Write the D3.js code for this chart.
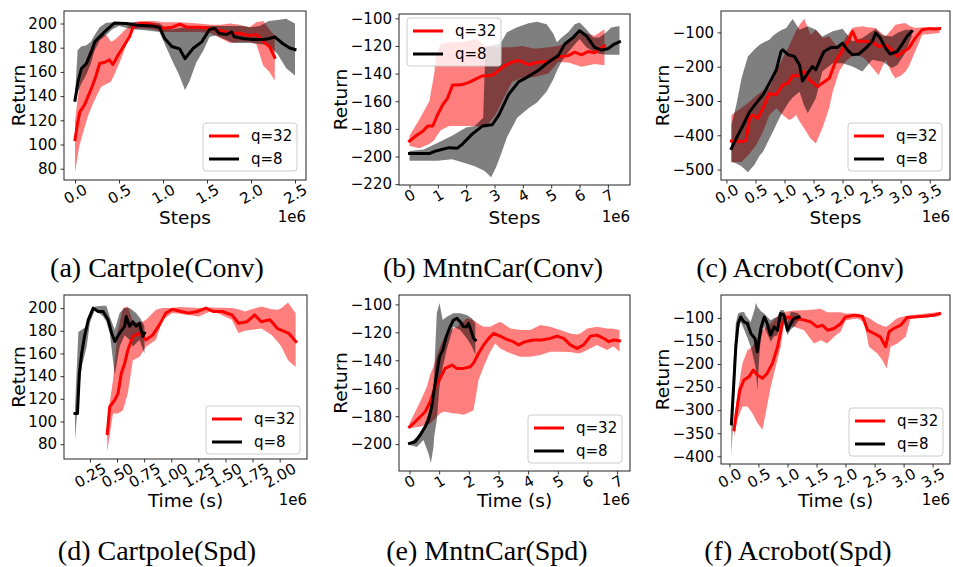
<!DOCTYPE html>
<html>
<head>
<meta charset="utf-8">
<script src="https://cdn.jsdelivr.net/npm/d3@7/dist/d3.min.js"></script>
<style>
  body { margin: 0; background: #fff; }
  text { fill: #000; }
</style>
</head>
<body>
<svg id="chart" width="953" height="567"></svg>
<script>
// ---- data (x in 1e6, return). bands are [x, low, high] ----

// (a) Cartpole(Conv)
const aRedMean = [[0,104],[.03,118],[.055,127],[.11,133],[.15,140],[.19,147],[.24,157],[.28,167],[.34,168],[.39,170],[.43,166],[.49,174],[.56,182],[.62,189],[.66,197],[.74,200],[.81,200],[.89,199],[1.0,196],[1.11,197],[1.19,199.5],[1.27,197],[1.42,197],[1.53,196],[1.64,194.5],[1.76,192],[1.87,192],[1.98,190],[2.06,191],[2.14,185],[2.21,181],[2.27,172]];
const aRedBand = [[0,77,119],[.05,99,150],[.1,112,164],[.15,124,175],[.2,133,183],[.25,141,186],[.3,148,191],[.36,150,190],[.41,152,185],[.46,160,187],[.53,172,192],[.6,186,197],[.66,195,201],[.75,196,202],[.9,195,202],[1.0,193,201],[1.2,193,201],[1.4,193,200],[1.55,192,199],[1.65,188,199],[1.76,184,200],[1.87,185,199],[1.98,185,197],[2.06,183,201],[2.14,165,202],[2.21,160,195],[2.27,153,190]];
const aBlackMean = [[0,136.6],[.034,151.7],[.073,162.8],[.13,167],[.186,176.5],[.224,184.8],[.28,189],[.357,194.5],[.45,200.5],[.58,200],[.7,198.6],[.88,198],[.96,197],[1.02,187.6],[1.1,181],[1.19,179],[1.25,171],[1.28,173.8],[1.34,179.3],[1.44,184.8],[1.53,195.3],[1.59,195.9],[1.64,191.7],[1.72,190.9],[1.78,193],[1.81,189],[1.91,187.6],[2.02,186.8],[2.14,186.8],[2.21,187.6],[2.27,189],[2.36,183.5],[2.44,179.8],[2.5,178.5]];
const aBlackBand = [[0,136,140],[.03,143,178],[.07,150,181],[.13,158,182],[.18,167,185],[.22,177,190],[.28,186,197],[.35,190,200.5],[.42,195,201],[.5,198,201],[.6,196,201],[.7,195,201],[.85,194,201],[.96,193,200],[1.02,183,197],[1.1,170,195],[1.18,158,196],[1.25,145,197],[1.3,152,197],[1.38,168,198],[1.46,178,198],[1.53,189,198],[1.6,190,198],[1.7,187,198],[1.8,184,198],[1.9,184,198],[2.0,184,197],[2.1,183,198],[2.2,182,202],[2.3,175,203],[2.4,163,204],[2.5,157,200]];

// (b) MntnCar(Conv)
const bRedMean = [[0,-188.8],[.23,-185],[.47,-181.7],[.64,-178],[.82,-178],[.99,-169.8],[1.17,-162.6],[1.34,-157.9],[1.52,-148.3],[1.69,-148.3],[1.87,-147.9],[2.1,-146.4],[2.33,-144],[2.57,-141.7],[2.92,-141.2],[3.15,-137.6],[3.38,-134],[3.62,-131.7],[3.85,-130.5],[4.2,-133.6],[4.55,-131.7],[4.9,-131.2],[5.25,-128],[5.6,-127],[5.83,-124.5],[6.07,-126.4],[6.3,-124],[6.53,-125],[6.71,-122],[6.88,-120]];
const bRedBand = [[0,-192.4,-185],[.35,-194,-173],[.7,-191,-160],[.88,-188,-139],[.93,-186,-127],[1.1,-181,-118.6],[1.4,-178,-117.4],[1.87,-178,-117.4],[2.33,-178,-115],[2.68,-179,-119.8],[3.03,-170,-121],[3.38,-155.5,-121],[3.62,-146,-121],[3.97,-143,-120],[4.43,-142.4,-122],[4.9,-140,-121],[5.25,-131.7,-120],[5.6,-132,-117.4],[6.07,-135,-110],[6.53,-133,-112.6],[6.88,-134,-108]];
const bBlackMean = [[0,-197.9],[.7,-197.9],[.93,-196],[1.4,-193.6],[1.69,-194],[1.87,-191],[2.2,-184],[2.57,-178],[2.92,-177],[3.15,-170],[3.5,-155],[3.85,-146],[4.2,-142],[4.55,-137.6],[4.9,-131.7],[5.25,-127],[5.48,-118.6],[5.78,-113.8],[6.0,-109],[6.24,-112.6],[6.53,-121],[6.77,-123],[7.0,-122],[7.23,-118.6],[7.41,-117]];
const bBlackBand = [[0,-203,-196],[.5,-203,-195],[1.0,-203,-190],[1.5,-202,-185],[2.0,-205,-179],[2.3,-207,-178],[2.6,-210,-172],[2.68,-211,-121],[2.88,-215,-120],[3.05,-208,-119],[3.2,-200,-118.6],[3.44,-186,-110],[3.8,-172,-106.5],[4.2,-165,-103.5],[4.5,-161,-102.5],[4.84,-153,-104.3],[5.08,-144,-111.4],[5.2,-138,-117.4],[5.37,-131,-113.8],[5.6,-124.5,-110],[5.83,-119,-104.3],[6.0,-115,-103],[6.24,-121,-107.9],[6.48,-124,-113.8],[6.7,-125.7,-113.8],[6.94,-126.4,-110],[7.12,-126.4,-106.7],[7.41,-126.4,-105.5]];

// (c) Acrobot(Conv)
const cRedMean = [[.086,-417],[.17,-417],[.26,-419],[.34,-414],[.4,-346],[.46,-341],[.54,-351],[.63,-321],[.74,-278],[.86,-282],[.97,-253],[1.06,-248],[1.14,-226],[1.26,-227],[1.34,-214],[1.43,-238.5],[1.57,-258],[1.65,-248],[1.77,-234],[1.88,-185],[2.0,-151],[2.11,-121.5],[2.17,-97],[2.25,-126],[2.4,-126],[2.54,-131],[2.62,-141],[2.74,-136],[2.85,-151],[2.94,-170],[3.05,-155.6],[3.14,-146],[3.25,-116.6],[3.37,-92],[3.48,-89],[3.59,-90],[3.67,-89]];
const cRedBand = [[.086,-478,-341],[.17,-478,-331],[.26,-478,-320],[.4,-453,-302],[.51,-429,-285],[.63,-390,-270],[.74,-341,-263],[.86,-321,-214],[.97,-341,-175],[1.08,-355.6,-140],[1.14,-350,-116.6],[1.2,-341,-95],[1.26,-360,-77.6],[1.34,-380,-60],[1.45,-410,-107],[1.54,-424,-92],[1.6,-400,-105],[1.65,-380,-116.6],[1.71,-351,-114],[1.77,-320,-111.7],[1.83,-273,-125],[1.94,-214,-146],[2.05,-185,-116.6],[2.17,-168,-87],[2.22,-165,-85],[2.34,-172,-82],[2.4,-180,-84],[2.57,-215,-87],[2.62,-224,-95],[2.74,-180,-111.7],[2.85,-220,-90],[2.91,-234,-77.6],[3.02,-224,-74],[3.08,-215,-72.7],[3.14,-199.5,-80],[3.25,-155.6,-87],[3.37,-107,-85],[3.67,-102,-85]];
const cBlackMean = [[.086,-438.5],[.17,-409],[.29,-370],[.4,-331],[.51,-307],[.63,-282],[.74,-248],[.86,-209],[.94,-155.6],[.97,-150.7],[1.06,-165],[1.17,-170],[1.26,-195],[1.31,-241.5],[1.4,-219],[1.48,-199.5],[1.54,-209],[1.6,-185],[1.68,-155.6],[1.8,-144],[1.91,-144],[2.0,-131],[2.08,-151],[2.17,-165],[2.28,-163],[2.4,-146],[2.51,-126],[2.57,-102],[2.65,-116.6],[2.74,-146],[2.82,-163],[2.94,-155.6],[3.02,-136],[3.11,-111.7],[3.19,-97]];
const cBlackBand = [[.086,-478,-370],[.17,-482,-312],[.26,-490,-234],[.37,-508,-170],[.48,-487,-150],[.57,-460,-136],[.63,-448,-130],[.74,-410,-121.5],[.8,-390,-110],[.91,-350,-97],[.94,-341,-94],[1.03,-315,-87],[1.08,-302,-75],[1.14,-290,-61],[1.26,-273,-92],[1.33,-310,-87],[1.4,-336,-82],[1.54,-292,-92],[1.65,-214,-111.7],[1.83,-190,-97],[2.0,-190,-89],[2.17,-199.5,-126],[2.34,-214,-116.6],[2.51,-180,-97],[2.57,-182,-90],[2.68,-185,-108],[2.85,-204,-111.7],[2.94,-195,-102],[3.08,-160,-92],[3.19,-112,-92]];

// (d) Cartpole(Spd)
const dRedMean = [[.41,89.4],[.433,113],[.48,119],[.51,124.8],[.54,142.5],[.57,151],[.6,163],[.646,175],[.707,178],[.768,172],[.83,176.4],[.89,185],[.95,195.6],[1.01,199],[1.09,197],[1.16,195.6],[1.24,197],[1.32,200],[1.39,197],[1.47,197],[1.56,194],[1.62,186.7],[1.7,188],[1.77,194],[1.83,188],[1.91,189.7],[1.98,182],[2.08,178],[2.15,170.5]];
const dRedBand = [[.409,73.5,101],[.463,107,136.6],[.509,107,181],[.555,110,200],[.6,125,201.5],[.646,154,188],[.707,157,186.7],[.768,166,189.7],[.859,172,198.5],[.92,189.7,200],[1.011,195.6,200],[1.072,195,201],[1.255,192.6,200],[1.376,198,200.5],[1.559,189.7,200],[1.62,178,199],[1.68,180,197],[1.742,181,199],[1.833,182,201.5],[1.925,176.4,199],[1.985,170,198.5],[2.016,166,200],[2.077,154,205],[2.123,150,198.5],[2.147,148,195.6]];
const dBlackMean = [[.113,107],[.135,107],[.153,142.5],[.174,160],[.2,175],[.235,189.7],[.28,200],[.326,197],[.372,197],[.418,189.7],[.45,178],[.48,170.5],[.524,178],[.57,184],[.585,192.6],[.616,184],[.646,188],[.676,184],[.707,186.7],[.737,175],[.753,178]];
const dBlackBand = [[.113,83.5,113],[.144,122,179],[.174,148,181],[.22,166,184],[.25,187,192.6],[.296,198.5,201.5],[.372,192.6,202],[.402,188,202],[.433,178,192.6],[.479,141,181],[.524,166,195.6],[.57,176,200],[.616,172,200],[.646,166,198],[.676,169,195.6],[.707,172,192],[.722,168,189.7],[.753,160,184]];

// (e) MntnCar(Spd)
const eRedMean = [[0,-187.6],[.19,-184],[.36,-180.4],[.53,-176.8],[.7,-169.7],[.87,-159],[1.03,-153],[1.2,-145.8],[1.43,-143.4],[1.6,-145.8],[1.82,-145.8],[2.05,-144.6],[2.16,-142],[2.33,-135],[2.5,-129],[2.67,-124.3],[2.83,-120.8],[3.06,-122.7],[3.28,-125],[3.5,-126.7],[3.68,-129],[3.9,-126.7],[4.18,-125.5],[4.47,-125.5],[4.75,-124.3],[4.97,-122.7],[5.2,-124.3],[5.42,-129],[5.65,-131.5],[5.87,-129],[6.1,-122.7],[6.32,-122],[6.55,-124.3],[6.72,-126.7],[6.88,-125.5],[7.08,-126]];
const eRedBand = [[0,-188.8,-185.2],[.19,-188,-176.8],[.36,-187.6,-169.7],[.585,-186,-159],[.7,-185.2,-150],[.81,-183,-144.6],[.92,-180.4,-137],[1.03,-178,-130.3],[1.15,-176.8,-125],[1.26,-177,-120.8],[1.48,-178,-117],[1.6,-178,-116],[1.82,-179,-112],[1.93,-178,-110],[2.16,-175.7,-111.2],[2.33,-154,-114],[2.5,-144.6,-116],[2.72,-133.9,-116],[2.89,-128,-114],[3.06,-131.5,-112.4],[3.4,-135,-117.2],[3.73,-137.5,-118.4],[4.07,-137.5,-118.4],[4.41,-136.3,-114.8],[4.75,-133.9,-116],[5.08,-133.9,-118.4],[5.42,-134,-120.8],[5.65,-135,-121.5],[5.76,-135,-120.8],[5.99,-132.7,-117.2],[6.32,-129,-116],[6.66,-132.7,-117.2],[6.88,-130,-117.5],[7.08,-133.9,-118.4]];
const eBlackMean = [[0,-199.5],[.19,-198.3],[.36,-193.6],[.53,-187.6],[.64,-182.8],[.75,-173.3],[.83,-161.3],[.92,-149.4],[1.01,-137.5],[1.12,-132.7],[1.24,-123],[1.37,-116],[1.48,-111.2],[1.6,-110],[1.71,-112.4],[1.82,-116],[1.93,-116],[1.99,-113.6],[2.07,-118.4],[2.16,-124.3],[2.22,-125.5]];
const eBlackBand = [[0,-200.7,-199.5],[.25,-202,-194.7],[.47,-197,-187.6],[.64,-206.7,-178],[.72,-213.5,-170],[.81,-202,-160],[.83,-195,-150],[.92,-182.8,-106.4],[1.01,-159,-99],[1.12,-145,-111.2],[1.26,-132,-108.8],[1.48,-116,-106.4],[1.71,-118.4,-106.4],[1.93,-124.3,-107.6],[2.1,-130,-110],[2.22,-136.3,-113.6]];

// (f) Acrobot(Spd)
const fRedMean = [[.08,-342.4],[.126,-299.3],[.18,-256],[.25,-234.5],[.34,-227.3],[.41,-213],[.48,-223.7],[.57,-231],[.65,-220],[.74,-198.6],[.83,-162.6],[.91,-112],[1.0,-98],[1.11,-101.4],[1.26,-103.6],[1.4,-108.6],[1.51,-119.4],[1.6,-115.8],[1.69,-126.6],[1.8,-123],[1.92,-112],[2.0,-98],[2.15,-94],[2.29,-96.4],[2.38,-126.6],[2.49,-133.8],[2.6,-141],[2.69,-162.6],[2.75,-130],[2.83,-123],[2.95,-115.8],[3.06,-99.3],[3.18,-97.8],[3.35,-96.4],[3.52,-94],[3.62,-90.6]];
const fRedBand = [[.08,-356.8,-320.8],[.138,-320.8,-263.3],[.224,-292,-198.6],[.31,-292,-170],[.396,-306.5,-162.6],[.482,-328,-144.6],[.568,-342.4,-128],[.625,-306.5,-120],[.711,-249,-112],[.797,-205.8,-100],[.884,-162.6,-90],[.941,-112,-87],[1.113,-119.4,-84],[1.285,-126.6,-83.5],[1.457,-155.4,-82],[1.572,-148.2,-79.9],[1.687,-155.4,-88],[1.801,-141,-88],[1.916,-130,-88],[2.002,-105,-90.6],[2.203,-101.4,-90.6],[2.318,-108.6,-96],[2.404,-162.6,-100],[2.547,-177,-112],[2.633,-191.4,-117],[2.708,-209.4,-119.4],[2.777,-162.6,-112],[2.892,-155.4,-100],[3.035,-141,-96],[3.121,-101.4,-94],[3.62,-96.4,-87]];
const fBlackMean = [[.034,-329.5],[.069,-256],[.11,-162.6],[.15,-112],[.195,-98],[.25,-108.6],[.31,-112],[.37,-134],[.44,-144.6],[.48,-173.4],[.54,-123],[.6,-98],[.65,-112],[.71,-137.4],[.77,-119.4],[.83,-126.6],[.88,-90.6],[.94,-94],[1.0,-126.6],[1.06,-112],[1.11,-101.4],[1.2,-98]];
const fBlackBand = [[.034,-400,-313.7],[.069,-306.5,-198.6],[.109,-191.4,-112],[.149,-126.6,-90.6],[.195,-108.6,-88],[.252,-125,-87],[.281,-134,-95],[.367,-162.6,-108.6],[.436,-198.6,-80],[.453,-210,-67],[.482,-256,-76.3],[.511,-190,-80],[.539,-144.6,-85],[.597,-119.4,-90.6],[.654,-135,-98],[.711,-151.8,-105],[.77,-140,-100],[.826,-137.4,-97.8],[.88,-110,-83],[.941,-112,-83.5],[.998,-137.4,-110],[1.056,-125,-87],[1.113,-119.4,-88],[1.199,-105,-90.6]];

// ---- ticks ----
const ticksCartpoleY = [80, 100, 120, 140, 160, 180, 200];
const ticksMntnConvY = [-220, -200, -180, -160, -140, -120, -100];
const ticksMntnSpdY = [-200, -180, -160, -140, -120, -100];
const ticksAcroConvY = [-500, -400, -300, -200, -100];
const ticksAcroSpdY = [-400, -350, -300, -250, -200, -150, -100];
const ticksHalfX25 = [0, 0.5, 1.0, 1.5, 2.0, 2.5];
const ticksHalfX35 = [0, 0.5, 1.0, 1.5, 2.0, 2.5, 3.0, 3.5];
const ticksQuarterX = [0.25, 0.5, 0.75, 1.0, 1.25, 1.5, 1.75, 2.0];
const ticksIntX = [0, 1, 2, 3, 4, 5, 6, 7];

const seriesNames = ["q=32", "q=8"];
const colors = ["#ff0000", "#000000"];

const fmt1 = d3.format(".1f"), fmt2 = d3.format(".2f"), fmt0 = d3.format("d");
const yFmt = d => d3.format("d")(d).replace("-", "\u2212");

const panels = [
  { caption: "(a) Cartpole(Conv)", rect: [64, 11, 306, 180], capX: 157, capY: 277, xLab: "Steps", xLabY: 224, yLabX: 18,
    legend: [203, 123], mean: [aRedMean, aBlackMean], band: [aRedBand, aBlackBand], xt: ticksHalfX25, xf: fmt1, yt: ticksCartpoleY },
  { caption: "(b) MntnCar(Conv)", rect: [399, 14, 630, 185], capX: 493, capY: 277, xLab: "Steps", xLabY: 224, yLabX: 340,
    legend: [407, 18], mean: [bRedMean, bBlackMean], band: [bRedBand, bBlackBand], xt: ticksIntX, xf: fmt0, yt: ticksMntnConvY },
  { caption: "(c) Acrobot(Conv)", rect: [721, 11, 950, 180], capX: 800, capY: 277, xLab: "Steps", xLabY: 224, yLabX: 662,
    legend: [848, 123], mean: [cRedMean, cBlackMean], band: [cRedBand, cBlackBand], xt: ticksHalfX35, xf: fmt1, yt: ticksAcroConvY },
  { caption: "(d) Cartpole(Spd)", rect: [64, 295, 307, 459], capX: 157, capY: 560, xLab: "Time (s)", xLabY: 507, yLabX: 18,
    legend: [206, 406], mean: [dRedMean, dBlackMean], band: [dRedBand, dBlackBand], xt: ticksQuarterX, xf: fmt2, yt: ticksCartpoleY },
  { caption: "(e) MntnCar(Spd)", rect: [399, 295, 630, 471], capX: 487, capY: 560, xLab: "Time (s)", xLabY: 507, yLabX: 340,
    legend: [528, 415], mean: [eRedMean, eBlackMean], band: [eRedBand, eBlackBand], xt: ticksIntX, xf: fmt0, yt: ticksMntnSpdY },
  { caption: "(f) Acrobot(Spd)", rect: [721, 295, 950, 464], capX: 798, capY: 560, xLab: "Time (s)", xLabY: 507, yLabX: 662,
    legend: [849, 408], mean: [fRedMean, fBlackMean], band: [fRedBand, fBlackBand], xt: ticksHalfX35, xf: fmt1, yt: ticksAcroSpdY }
];

const svg = d3.select("#chart");

// matplotlib-ish auto limits: 5% margin on each side
function padded(ext) {
  const r = ext[1] - ext[0];
  return [ext[0] - 0.05 * r, ext[1] + 0.05 * r];
}

function drawPanel(p) {
  const [x0, y0, x1, y1] = p.rect;
  const xs = [], ys = [];
  p.mean.forEach(s => s.forEach(d => { xs.push(d[0]); ys.push(d[1]); }));
  p.band.forEach(s => s.forEach(d => { xs.push(d[0]); ys.push(d[1], d[2]); }));

  const x = d3.scaleLinear().domain(padded(d3.extent(xs))).range([x0, x1]);
  const y = d3.scaleLinear().domain(padded(d3.extent(ys))).range([y1, y0]);

  const g = svg.append("g");

  const area = d3.area().x(d => x(d[0])).y0(d => y(d[1])).y1(d => y(d[2]));
  const line = d3.line().x(d => x(d[0])).y(d => y(d[1]));

  // bands first (red then grey), then the mean lines
  p.band.forEach((b, i) => {
    g.append("path").attr("d", area(b)).attr("fill", colors[i]).attr("fill-opacity", 0.5);
  });
  p.mean.forEach((m, i) => {
    g.append("path").attr("d", line(m)).attr("fill", "none")
      .attr("stroke", colors[i]).attr("stroke-width", 3)
      .attr("stroke-linejoin", "round").attr("stroke-linecap", "square");
  });

  // axes
  const xAxis = g.append("g").attr("transform", `translate(0,${y1})`)
    .call(d3.axisBottom(x).tickValues(p.xt).tickFormat(p.xf).tickSize(3.5));
  xAxis.select(".domain").remove();
  xAxis.selectAll("line").attr("stroke", "#000").attr("stroke-width", 0.8);
  xAxis.selectAll("text")
    .attr("font-family", "DejaVu Sans").attr("font-size", 15).attr("fill", "#000")
    .each(function () {
      const t = d3.select(this);
      const w = this.getComputedTextLength();
      const cy = 4 + (w * 0.5 + 10 * 0.866) / 2;
      t.attr("x", 0).attr("y", cy).attr("dy", null)
        .attr("text-anchor", "middle").attr("dominant-baseline", "central")
        .attr("transform", `rotate(-30,0,${cy})`);
    });

  const yAxis = g.append("g").attr("transform", `translate(${x0},0)`)
    .call(d3.axisLeft(y).tickValues(p.yt).tickFormat(yFmt).tickSize(3.5).tickPadding(3.5));
  yAxis.select(".domain").remove();
  yAxis.selectAll("line").attr("stroke", "#000").attr("stroke-width", 0.8);
  yAxis.selectAll("text").attr("font-family", "DejaVu Sans").attr("font-size", 15).attr("fill", "#000");

  // frame
  g.append("rect").attr("x", x0).attr("y", y0).attr("width", x1 - x0).attr("height", y1 - y0)
    .attr("fill", "none").attr("stroke", "#222").attr("stroke-width", 1);

  // labels
  g.append("text").attr("x", (x0 + x1) / 2).attr("y", p.xLabY)
    .attr("text-anchor", "middle").attr("font-family", "DejaVu Sans").attr("font-size", 18.5)
    .text(p.xLab);
  g.append("text").attr("transform", `translate(${p.yLabX},${(y0 + y1) / 2}) rotate(-90)`)
    .attr("text-anchor", "middle").attr("dominant-baseline", "central")
    .attr("font-family", "DejaVu Sans").attr("font-size", 18.5)
    .text("Return");
  g.append("text").attr("x", x1).attr("y", p.xLabY - 2)
    .attr("text-anchor", "end").attr("font-family", "DejaVu Sans").attr("font-size", 15)
    .text("1e6");

  // legend
  const [lx, ly] = p.legend;
  const lg = g.append("g").attr("transform", `translate(${lx},${ly})`);
  lg.append("rect").attr("width", 94).attr("height", 48).attr("rx", 3)
    .attr("fill", "#fff").attr("fill-opacity", 0.8).attr("stroke", "#ccc").attr("stroke-width", 1);
  seriesNames.forEach((name, i) => {
    const cy = 13 + i * 23;
    lg.append("line").attr("x1", 6).attr("x2", 36).attr("y1", cy).attr("y2", cy)
      .attr("stroke", colors[i]).attr("stroke-width", 3);
    lg.append("text").attr("x", 48).attr("y", cy).attr("dominant-baseline", "central")
      .attr("font-family", "DejaVu Sans").attr("font-size", 15).text(name);
  });

  // caption
  svg.append("text").attr("x", p.capX).attr("y", p.capY).attr("text-anchor", "middle")
    .attr("font-family", "Liberation Serif").attr("font-size", 28).text(p.caption);
}

panels.forEach(drawPanel);
</script>
</body>
</html>
